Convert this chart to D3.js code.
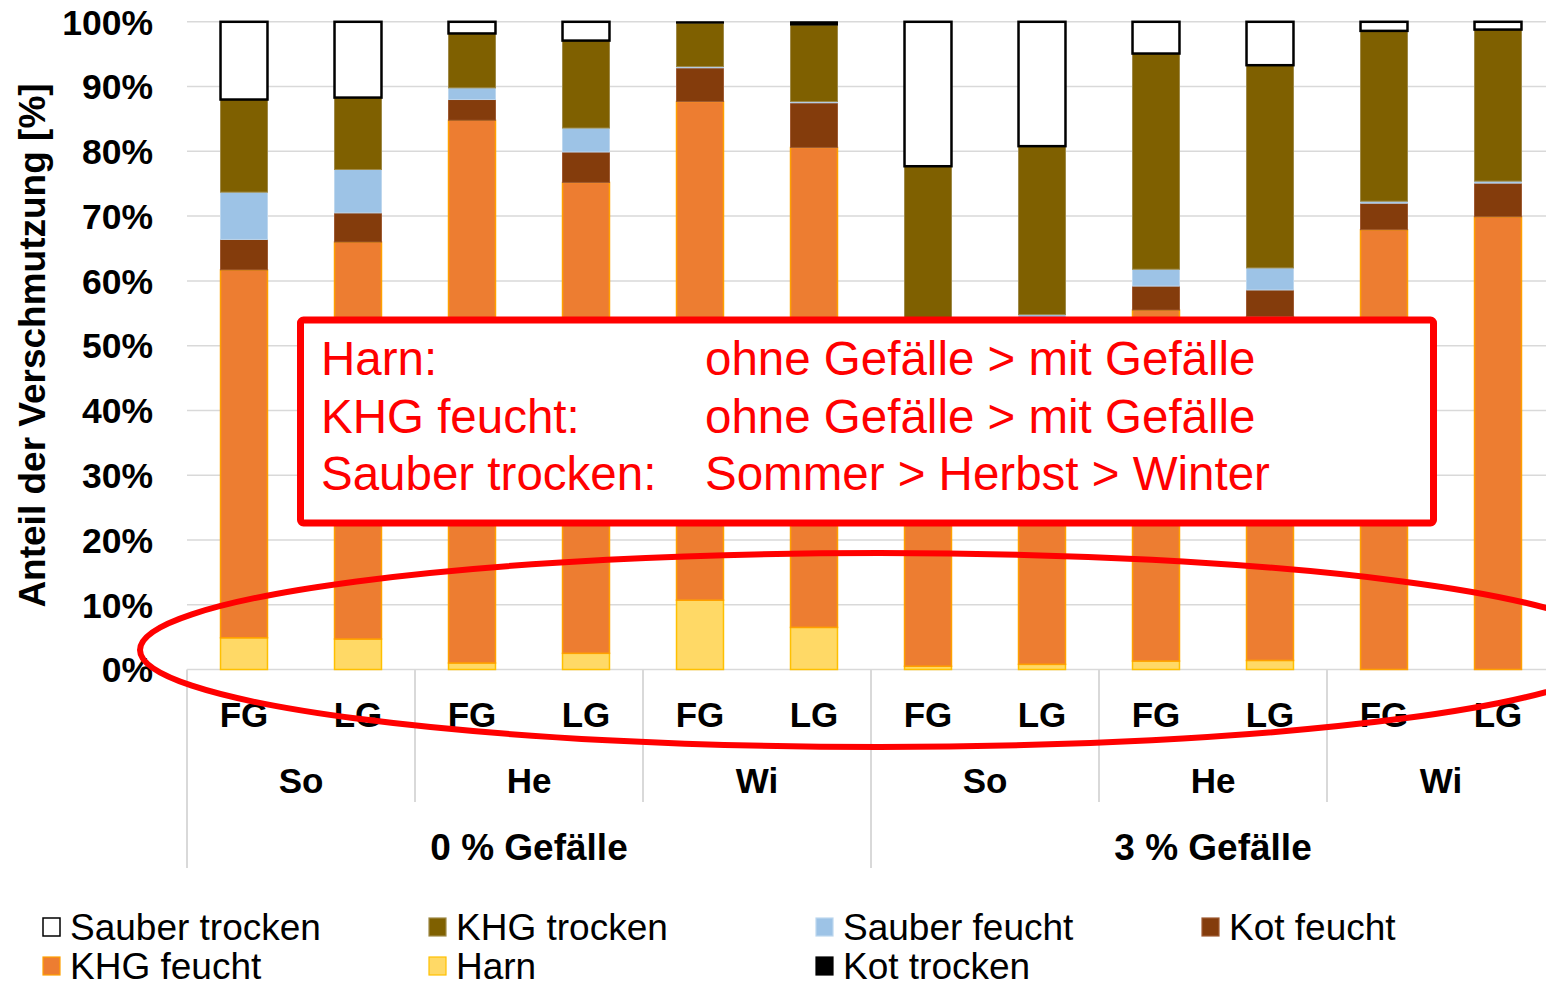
<!DOCTYPE html>
<html><head><meta charset="utf-8">
<script src="https://cdn.jsdelivr.net/npm/d3@7/dist/d3.min.js"></script>
<style>html,body{margin:0;padding:0;background:#fff;}svg{display:block;font-family:Arial,"Liberation Sans",sans-serif;}</style>
</head><body>
<svg id="chart" width="1546" height="986"></svg>
<script>
// ---- data ----
const slopes = ["0 % Gefälle", "3 % Gefälle"];
const seasons = ["So", "He", "Wi"];
const positions = ["FG", "LG"];
const categories = ["0-So-FG","0-So-LG","0-He-FG","0-He-LG","0-Wi-FG","0-Wi-LG","3-So-FG","3-So-LG","3-He-FG","3-He-LG","3-Wi-FG","3-Wi-LG"];
const harn          = [4.9, 4.7, 1.0, 2.5, 10.7, 6.5, 0.5, 0.8, 1.3, 1.4, 0, 0];
const khgFeucht     = [56.8, 61.3, 83.8, 72.7, 77.0, 74.1, 46.0, 47.2, 54.2, 53.1, 67.9, 69.9];
const kotFeucht     = [4.7, 4.5, 3.2, 4.7, 5.2, 6.9, 4.0, 4.3, 3.7, 4.1, 4.1, 5.2];
const sauberFeucht  = [7.3, 6.7, 1.8, 3.7, 0.2, 0.2, 2.0, 2.5, 2.6, 3.4, 0.3, 0.3];
const khgTrocken    = [14.3, 11.1, 8.4, 13.5, 6.7, 11.8, 25.2, 26.0, 33.3, 31.3, 26.3, 23.4];
const kotTrocken    = [0, 0, 0, 0, 0.2, 0.5, 0, 0, 0, 0, 0, 0];
const sauberTrocken = [12.0, 11.7, 1.8, 2.9, 0, 0, 22.3, 19.2, 4.9, 6.7, 1.4, 1.2];
const yTicks = [0,10,20,30,40,50,60,70,80,90,100];
const seriesNames = ["Harn","KHG feucht","Kot feucht","Sauber feucht","KHG trocken","Kot trocken","Sauber trocken"];
const seriesValues = [harn, khgFeucht, kotFeucht, sauberFeucht, khgTrocken, kotTrocken, sauberTrocken];
const legendOrder = ["Sauber trocken","KHG trocken","Sauber feucht","Kot feucht","KHG feucht","Harn","Kot trocken"];
const noteLabels = ["Harn:", "KHG feucht:", "Sauber trocken:"];
const noteTexts = ["ohne Gefälle > mit Gefälle", "ohne Gefälle > mit Gefälle", "Sommer > Herbst > Winter"];

const fills = {"Harn":"#FFD966","KHG feucht":"#ED7D31","Kot feucht":"#843C0C","Sauber feucht":"#9DC3E6","KHG trocken":"#7F6000","Kot trocken":"#000000","Sauber trocken":"#FFFFFF"};
const strokes = {"Harn":"#FFC000","KHG feucht":"#FFA000","Kot feucht":"#9E5A32","Sauber feucht":"#BDD7EE","KHG trocken":"#9E8A48","Kot trocken":"#000000","Sauber trocken":"#000000"};
const strokeW = {"Harn":1.5,"KHG feucht":1.5,"Kot feucht":1,"Sauber feucht":1,"KHG trocken":1,"Kot trocken":1,"Sauber trocken":2.5};

// ---- layout ----
const svg = d3.select("#chart");
const plotL = 187, plotR = 187 + 12*114;
const x = d3.scaleBand().domain(categories).range([plotL, plotR]).paddingInner(0.588).paddingOuter(0.294);
const y = d3.scaleLinear().domain([0,100]).range([669.5, 21.8]);
const grid = "#D9D9D9";

// gridlines
svg.append("g").selectAll("line").data(yTicks).join("line")
  .attr("x1", plotL).attr("x2", plotR)
  .attr("y1", d=>y(d)).attr("y2", d=>y(d))
  .attr("stroke", grid).attr("stroke-width", 1.5);

// y tick labels
svg.append("g").selectAll("text").data(yTicks).join("text")
  .attr("x", 153).attr("y", d=>y(d)).attr("dy","0.36em")
  .attr("text-anchor","end").attr("font-weight","bold").attr("font-size",35.5)
  .text(d=>d+"%");

// y axis title
svg.append("text").attr("transform","translate(45,345.5) rotate(-90)")
  .attr("text-anchor","middle").attr("font-weight","bold").attr("font-size",37)
  .text("Anteil der Verschmutzung [%]");

// stacked bars
const stackData = categories.map((c,i)=>{const o={cat:c}; seriesNames.forEach((s,k)=>o[s]=seriesValues[k][i]); return o;});
const stacked = d3.stack().keys(seriesNames)(stackData);
const gBars = svg.append("g");
stacked.forEach(layer=>{
  const name = layer.key;
  gBars.append("g").selectAll("rect").data(layer.filter(d=>d[1]-d[0]>0)).join("rect")
    .attr("x", d=>x(d.data.cat)).attr("width", x.bandwidth())
    .attr("y", d=>y(d[1])).attr("height", d=>y(d[0])-y(d[1]))
    .attr("fill", fills[name]).attr("stroke", strokes[name]).attr("stroke-width", strokeW[name]);
});

// multi-level category axis
const step = x.step();
const gx = svg.append("g");
categories.forEach((c,i)=>{
  gx.append("text").attr("x", x(c)+x.bandwidth()/2).attr("y", 727)
    .attr("text-anchor","middle").attr("font-weight","bold").attr("font-size",35)
    .text(positions[i%2]);
});
for (let s=0;s<6;s++){
  const c0 = categories[s*2], c1 = categories[s*2+1];
  const cx = (x(c0)+x(c1)+x.bandwidth())/2;
  gx.append("text").attr("x", cx).attr("y", 793).attr("text-anchor","middle")
    .attr("font-weight","bold").attr("font-size",35).text(seasons[s%3]);
}
slopes.forEach((sl,g)=>{
  const c0 = categories[g*6], c5 = categories[g*6+5];
  const cx = (x(c0)+x(c5)+x.bandwidth())/2;
  gx.append("text").attr("x", cx).attr("y", 860).attr("text-anchor","middle")
    .attr("font-weight","bold").attr("font-size",37).text(sl);
});
// separators
for (let k=0;k<=12;k+=2){
  const xx = plotL + k*step;
  const long = (k%6===0);
  gx.append("line").attr("x1",xx).attr("x2",xx).attr("y1",y(0)).attr("y2", long?868:802)
    .attr("stroke",grid).attr("stroke-width",2);
}

// legend
const legendPos = [[42,927],[428,927],[815,927],[1201,927],[42,966],[428,966],[815,966]];
legendOrder.forEach((name,i)=>{
  const [lx,ly] = legendPos[i];
  svg.append("rect").attr("x",lx+1).attr("y",ly-9).attr("width",17).attr("height",18)
    .attr("fill",fills[name]).attr("stroke",strokes[name]).attr("stroke-width", name==="Sauber trocken"?1.5:1.2);
  svg.append("text").attr("x",lx+28).attr("y",ly).attr("dy","0.36em")
    .attr("font-size",37).text(name);
});

// annotation box
svg.append("rect").attr("x",300.5).attr("y",320).attr("width",1133).attr("height",203)
  .attr("rx",3).attr("fill","#fff").attr("stroke","#FF0000").attr("stroke-width",7);
noteLabels.forEach((t,i)=>{
  svg.append("text").attr("x",321).attr("y",375+i*57.5).attr("font-size",47.5).attr("fill","#FF0000").text(t);
  svg.append("text").attr("x",705).attr("y",375+i*57.5).attr("font-size",47.5).attr("fill","#FF0000").text(noteTexts[i]);
});

// ellipse
svg.append("ellipse").attr("cx",879.5).attr("cy",650).attr("rx",739.5).attr("ry",97)
  .attr("fill","none").attr("stroke","#FF0000").attr("stroke-width",6);
</script>
</body></html>
